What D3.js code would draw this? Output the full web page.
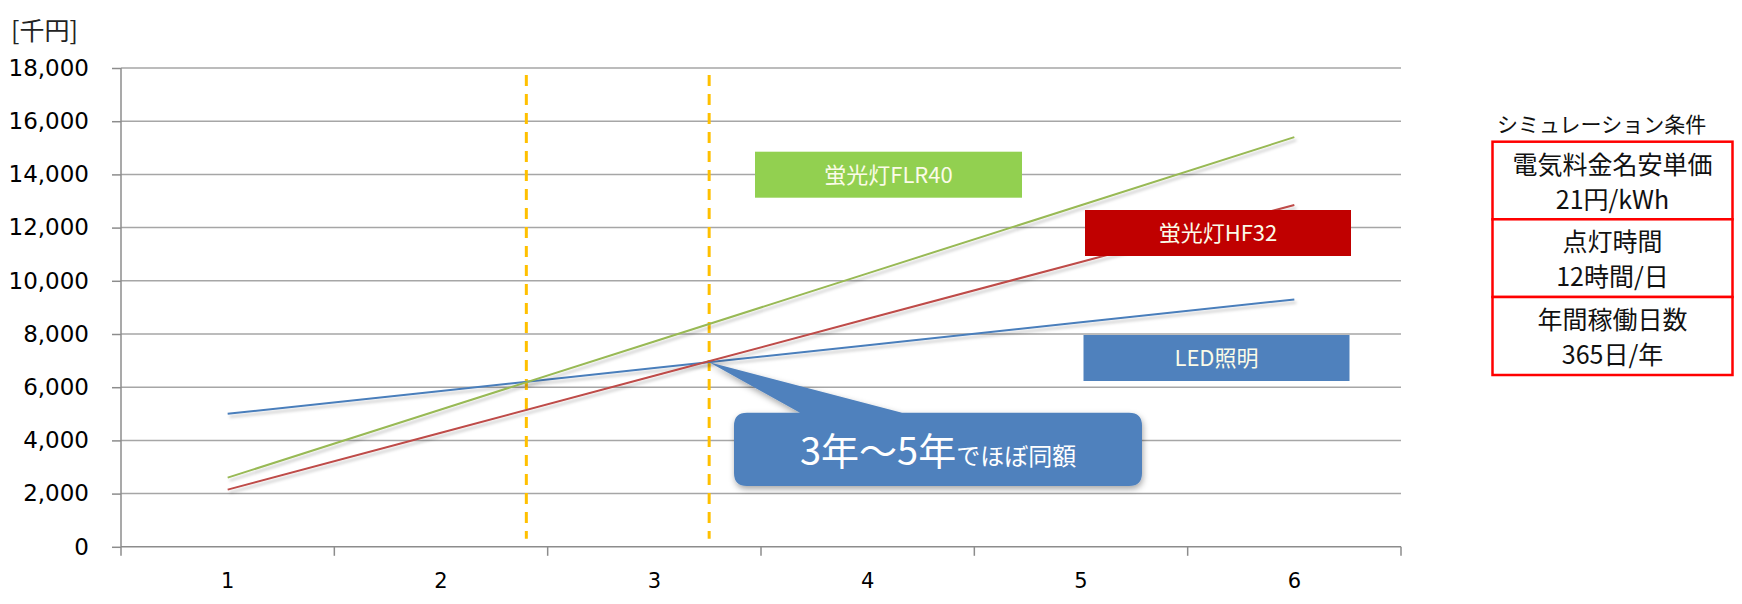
<!DOCTYPE html>
<html lang="ja">
<head>
<meta charset="UTF-8">
<title>照明コスト比較</title>
<style>
    body { margin: 0; padding: 0; background: #ffffff; overflow: hidden; }
    svg text { font-family: "DejaVu Sans", Verdana, sans-serif; }
    .jp { font-family: "Noto Sans CJK JP", "Noto Sans", sans-serif; }
</style>
</head>
<body>
<svg id="chart" width="1742" height="604"></svg>
<script src="https://d3js.org/d3.v7.min.js"></script>
<script>
    // data (千円)
    const years = [1, 2, 3, 4, 5, 6];
    const ledValues = [5000, 5860, 6720, 7580, 8440, 9300];
    const flr40Values = [2600, 5160, 7720, 10280, 12840, 15400];
    const hf32Values = [2150, 4290, 6430, 8570, 10710, 12850];
    const yTicks = [0, 2000, 4000, 6000, 8000, 10000, 12000, 14000, 16000, 18000];
    const markerYears = [2.4, 3.257];   // dashed vertical guides
    const conditionTitle = "シミュレーション条件";
    const conditionRows = [
        ["電気料金名安単価", "21円/kWh"],
        ["点灯時間", "12時間/日"],
        ["年間稼働日数", "365日/年"]
    ];

    const margin = { top: 68, left: 121 };
    const width = 1280;
    const height = 478.8;

    const svg = d3.select("#chart");
    const defs = svg.append("defs");
    defs.append("filter").attr("id", "lineShadow")
        .attr("x", "-5%").attr("y", "-20%").attr("width", "110%").attr("height", "140%")
        .append("feDropShadow")
        .attr("dx", 2).attr("dy", 3).attr("stdDeviation", 1.8)
        .attr("flood-color", "#000").attr("flood-opacity", 0.22);
    defs.append("filter").attr("id", "boxShadow")
        .attr("x", "-10%").attr("y", "-20%").attr("width", "120%").attr("height", "150%")
        .append("feDropShadow")
        .attr("dx", 1).attr("dy", 3).attr("stdDeviation", 3)
        .attr("flood-color", "#000").attr("flood-opacity", 0.35);

    const g = svg.append("g").attr("transform", `translate(${margin.left},${margin.top})`);

    const x = d3.scaleBand().domain(years).range([0, width]);
    const xLin = d3.scaleLinear().domain([0.5, 6.5]).range([0, width]);
    const y = d3.scaleLinear().domain([0, 18000]).range([height, 0]);

    // gridlines
    g.selectAll("line.grid")
        .data(yTicks.filter(d => d > 0))
        .enter().append("line")
        .attr("class", "grid")
        .attr("x1", 0).attr("x2", width)
        .attr("y1", d => y(d)).attr("y2", d => y(d))
        .attr("stroke", "#a6a6a6").attr("stroke-width", 1.5);

    // y axis
    const yAxis = g.append("g")
        .call(d3.axisLeft(y).tickValues(yTicks).tickSize(9).tickPadding(23)
            .tickFormat(d3.format(",")));
    yAxis.select(".domain").attr("stroke", "#8c8c8c").attr("stroke-width", 1.5).attr("d", `M0,0V${height}`);
    yAxis.selectAll(".tick line").attr("stroke", "#8c8c8c").attr("stroke-width", 1.5);
    yAxis.selectAll(".tick text")
        .attr("fill", "#000").attr("font-size", "23px")
        .attr("font-family", "DejaVu Sans, Verdana, sans-serif");

    // x axis with ticks between categories
    const xAxisG = g.append("g").attr("transform", `translate(0,${height})`);
    xAxisG.append("line")
        .attr("x1", 0).attr("x2", width)
        .attr("stroke", "#8c8c8c").attr("stroke-width", 1.5);
    xAxisG.selectAll("line.xtick")
        .data(d3.range(years.length + 1))
        .enter().append("line")
        .attr("class", "xtick")
        .attr("x1", i => i * x.step()).attr("x2", i => i * x.step())
        .attr("y1", 0).attr("y2", 9)
        .attr("stroke", "#8c8c8c").attr("stroke-width", 1.5);
    xAxisG.selectAll("text")
        .data(years)
        .enter().append("text")
        .attr("x", d => x(d) + x.bandwidth() / 2)
        .attr("y", 41)
        .attr("text-anchor", "middle")
        .attr("font-size", "21px")
        .attr("fill", "#000")
        .text(d => d);

    // unit label
    svg.append("text").attr("class", "jp")
        .attr("x", 11).attr("y", 40)
        .attr("font-size", "25px").attr("fill", "#222")
        .text("[千円]");

    // dashed guides
    g.selectAll("line.guide")
        .data(markerYears)
        .enter().append("line")
        .attr("class", "guide")
        .attr("x1", d => xLin(d)).attr("x2", d => xLin(d))
        .attr("y1", 7).attr("y2", height - 8)
        .attr("stroke", "#ffc000").attr("stroke-width", 3)
        .attr("stroke-dasharray", "11,8");

    // series lines
    const series = [
        { name: "LED", values: ledValues, color: "#4a7ebb" },
        { name: "HF32", values: hf32Values, color: "#be4b48" },
        { name: "FLR40", values: flr40Values, color: "#98b954" }
    ];
    const line = d3.line()
        .x((d, i) => x(years[i]) + x.bandwidth() / 2)
        .y(d => y(d));
    g.selectAll("path.series")
        .data(series)
        .enter().append("path")
        .attr("class", "series")
        .attr("d", d => line(d.values))
        .attr("fill", "none")
        .attr("stroke", d => d.color)
        .attr("stroke-width", 2)
        .attr("filter", "url(#lineShadow)");

    // series label boxes
    const labelBoxes = [
        { text: "蛍光灯FLR40", x: 755, y: 151.7, w: 267, h: 46, fill: "#92d050" },
        { text: "蛍光灯HF32", x: 1085, y: 210, w: 266, h: 46, fill: "#c00000" },
        { text: "LED照明", x: 1083.5, y: 335, w: 266, h: 46, fill: "#4f81bd" }
    ];
    const lb = svg.selectAll("g.labelBox")
        .data(labelBoxes)
        .enter().append("g")
        .attr("class", "labelBox");
    lb.append("rect")
        .attr("x", d => d.x).attr("y", d => d.y)
        .attr("width", d => d.w).attr("height", d => d.h)
        .attr("fill", d => d.fill);
    lb.append("text").attr("class", "jp")
        .attr("x", d => d.x + d.w / 2).attr("y", d => d.y + d.h / 2 + 8)
        .attr("text-anchor", "middle")
        .attr("font-size", "22px")
        .attr("fill", "#fbfbe8")
        .text(d => d.text);

    // callout pointing at the LED / HF32 crossing
    const tipX = margin.left + xLin(markerYears[1]);
    const tipY = margin.top + y(ledValues[2] + (ledValues[3] - ledValues[2]) * (markerYears[1] - 3));
    const bx = 734, by = 412.7, bw = 408, bh = 73.3, r = 13;
    const callout = d3.path();
    callout.moveTo(bx + r, by);
    callout.lineTo(800, by);
    callout.lineTo(tipX, tipY);
    callout.lineTo(902, by);
    callout.lineTo(bx + bw - r, by);
    callout.quadraticCurveTo(bx + bw, by, bx + bw, by + r);
    callout.lineTo(bx + bw, by + bh - r);
    callout.quadraticCurveTo(bx + bw, by + bh, bx + bw - r, by + bh);
    callout.lineTo(bx + r, by + bh);
    callout.quadraticCurveTo(bx, by + bh, bx, by + bh - r);
    callout.lineTo(bx, by + r);
    callout.quadraticCurveTo(bx, by, bx + r, by);
    callout.closePath();
    svg.append("path")
        .attr("d", callout.toString())
        .attr("fill", "#4f81bd")
        .attr("filter", "url(#boxShadow)");
    const ct = svg.append("text").attr("class", "jp")
        .attr("x", 800).attr("y", 465)
        .attr("fill", "#ffffff");
    ct.append("tspan").attr("font-size", "38px").text("3年～5年");
    ct.append("tspan").attr("font-size", "24px").text("でほぼ同額");

    // simulation conditions table
    const tx = 1492.5, tw = 240, rowH = [77.6, 77.7, 78];
    const rowTop = [141.7, 219.3, 297];
    svg.append("text").attr("class", "jp")
        .attr("x", 1497).attr("y", 132)
        .attr("font-size", "21px").attr("fill", "#111")
        .text(conditionTitle);
    const rows = svg.selectAll("g.cond")
        .data(conditionRows)
        .enter().append("g").attr("class", "cond");
    rows.append("rect")
        .attr("x", tx).attr("y", (d, i) => rowTop[i])
        .attr("width", tw).attr("height", (d, i) => rowH[i])
        .attr("fill", "#fff")
        .attr("stroke", "#ff0000").attr("stroke-width", 2.5);
    rows.append("text").attr("class", "jp")
        .attr("x", tx + tw / 2).attr("y", (d, i) => rowTop[i] + 32)
        .attr("text-anchor", "middle").attr("font-size", "25px").attr("fill", "#111")
        .text(d => d[0]);
    rows.append("text").attr("class", "jp")
        .attr("x", tx + tw / 2).attr("y", (d, i) => rowTop[i] + 67)
        .attr("text-anchor", "middle").attr("font-size", "25px").attr("fill", "#111")
        .text(d => d[1]);
</script>
</body>
</html>
